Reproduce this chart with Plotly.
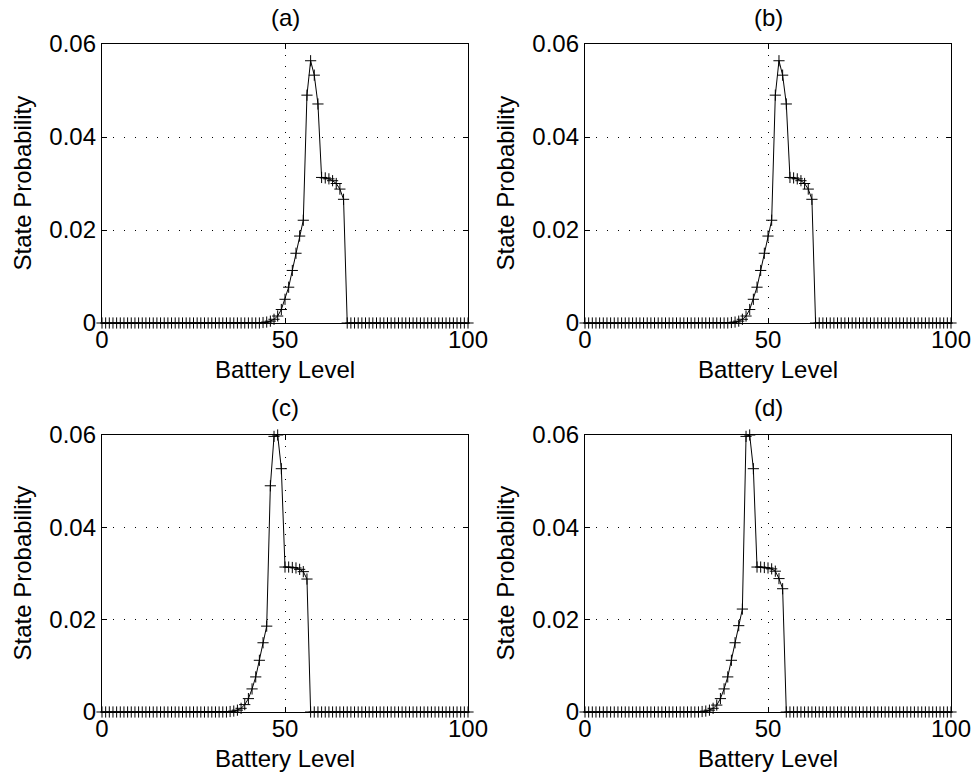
import plotly.graph_objects as go

# ---- data ----
battery_levels = list(range(0, 101))

panel_labels = ["(a)", "(b)", "(c)", "(d)"]

# first non-zero battery level of each panel and the non-zero probabilities
start_a = 44
prob_a = [0.0001, 0.0002, 0.0004, 0.0008, 0.0015, 0.0029, 0.0051, 0.0077,
          0.0113, 0.0150, 0.0187, 0.0221, 0.0490, 0.0564, 0.0533, 0.0471,
          0.0313, 0.0312, 0.0310, 0.0306, 0.0300, 0.0288, 0.0266]

start_b = 40
prob_b = [0.0001, 0.0002, 0.0004, 0.0008, 0.0015, 0.0029, 0.0051, 0.0077,
          0.0113, 0.0150, 0.0187, 0.0221, 0.0490, 0.0564, 0.0533, 0.0471,
          0.0313, 0.0312, 0.0310, 0.0306, 0.0300, 0.0288, 0.0266]

start_c = 35
prob_c = [0.0001, 0.0002, 0.0004, 0.0008, 0.0016, 0.0029, 0.0050, 0.0076,
          0.0112, 0.0150, 0.0186, 0.0490, 0.0597, 0.0600, 0.0527,
          0.0314, 0.0314, 0.0313, 0.0312, 0.0309, 0.0304, 0.0288]

start_d = 32
prob_d = [0.0001, 0.0002, 0.0004, 0.0008, 0.0015, 0.0029, 0.0050, 0.0076,
          0.0112, 0.0150, 0.0187, 0.0223, 0.0597, 0.0600, 0.0527,
          0.0314, 0.0314, 0.0313, 0.0312, 0.0310, 0.0305, 0.0289, 0.0267]

x_tick_vals = [0, 50, 100]
y_tick_vals = [0, 0.02, 0.04, 0.06]
y_tick_text = ["0", "0.02", "0.04", "0.06"]

x_title = "Battery Level"
y_title = "State Probability"


def full_series(start, vals):
    ys = [0.0] * len(battery_levels)
    for i, v in enumerate(vals):
        ys[start + i] = v
    return ys


series = [full_series(start_a, prob_a), full_series(start_b, prob_b),
          full_series(start_c, prob_c), full_series(start_d, prob_d)]

W, H = 976, 783
# pixel boxes of the four plot areas (left, right, top, bottom)
boxes = [(102, 468, 44, 323), (585, 951, 44, 323),
         (102, 468, 435, 712), (585, 951, 435, 712)]

FONT = "Liberation Sans, Arial, Helvetica, sans-serif"
FS = 24

fig = go.Figure()
annotations = []
layout_axes = {}
for i, (ys, lab, box) in enumerate(zip(series, panel_labels, boxes)):
    n = "" if i == 0 else str(i + 1)
    fig.add_trace(go.Scatter(
        x=battery_levels, y=ys, mode="lines+markers",
        xaxis="x" + n, yaxis="y" + n,
        line=dict(color="black", width=1),
        marker=dict(symbol="cross-thin", size=8,
                    line=dict(color="black", width=1), color="black"),
        cliponaxis=False, showlegend=False, hoverinfo="x+y"))
    l, r, t, b = box
    common = dict(showline=True, linecolor="black", linewidth=1.4,
                  mirror="ticks", ticks="inside", ticklen=5, tickwidth=1,
                  tickcolor="black", showgrid=True, gridcolor="black",
                  gridwidth=1, griddash="1px,10px", zeroline=False,
                  automargin=False,
                  tickfont=dict(family=FONT, size=FS, color="black"))
    layout_axes["xaxis" + n] = dict(
        common, domain=[l / W, r / W], range=[0, 100],
        tickvals=x_tick_vals, anchor="y" + n, ticklabelstandoff=-5)
    layout_axes["yaxis" + n] = dict(
        common, domain=[1 - b / H, 1 - t / H], range=[0, 0.06],
        tickvals=y_tick_vals, ticktext=y_tick_text, anchor="x" + n)
    cx = (l + r) / 2
    txt = dict(xref="paper", yref="paper", showarrow=False,
               xanchor="center", yanchor="middle",
               font=dict(family=FONT, size=FS, color="black"))
    annotations.append(dict(txt, text=lab, x=cx / W, y=1 - (t - 27) / H))
    annotations.append(dict(txt, text=x_title, x=cx / W, y=1 - (b + 46) / H))
    annotations.append(dict(txt, text=y_title, x=(l - 80) / W,
                            y=1 - ((t + b) / 2) / H, textangle=-90))

fig.update_layout(
    template="none",
    width=W, height=H, margin=dict(l=0, r=0, t=0, b=0, pad=0),
    paper_bgcolor="white", plot_bgcolor="white",
    annotations=annotations, **layout_axes)

fig.write_html("out.html", config={"displayModeBar": False},
               post_script="document.body.style.margin='0px';"
                           "document.body.style.overflow='hidden';")
